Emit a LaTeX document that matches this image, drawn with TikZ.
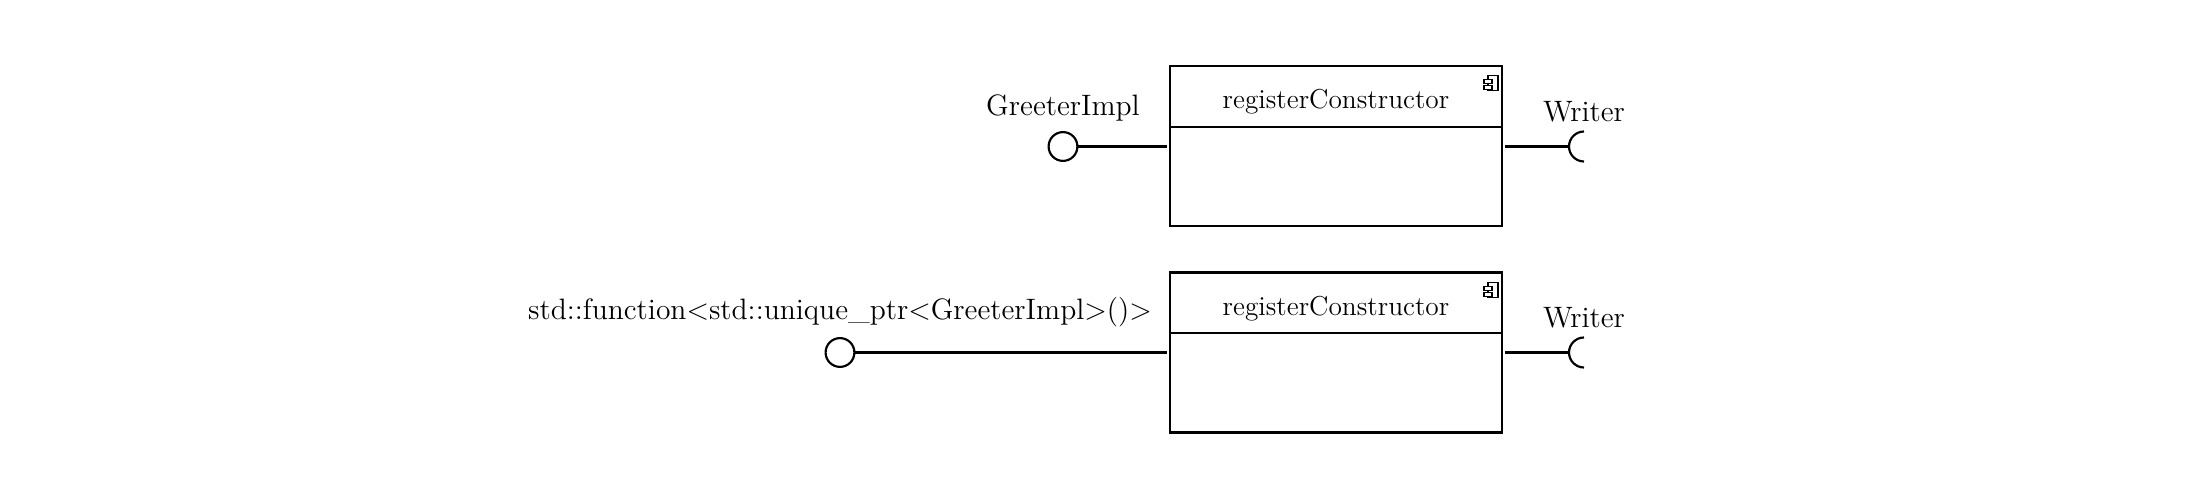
\documentclass[tikz,border=0pt]{standalone}
\usetikzlibrary{calc}
\begin{document}
\begin{tikzpicture}[x=0.41667pt,y=-0.41667pt,line width=0.9pt,
  comp/.style={draw, minimum width=138.33pt, minimum height=66.67pt, inner sep=0pt},
  ctitle/.style={font=\fontsize{11.4}{13.6}\selectfont, inner sep=0pt},
  lbl/.style={font=\fontsize{12.3}{14.6}\selectfont, anchor=south, inner sep=3.6pt},
  ball/.style={circle, draw, minimum size=12pt, inner sep=0pt},
  iconbox/.style={draw, fill=white, line width=0.55pt}
]
\useasboundingbox (0,0) rectangle (2185,489);

% ---------- top component ----------
\node[comp] (box1) at (1336,145.7) {};
\draw ($(box1.north west)+(0,62)$) -- ($(box1.north east)+(0,62)$);
\node[ctitle] (t1) at ($(box1.north)+(0,37.5)$) {registerConstructor};
\draw[iconbox] ($(box1.north east)+(-15,11)$) rectangle ($(box1.north east)+(-5,26)$);
\draw[iconbox] ($(box1.north east)+(-19,15)$) rectangle ($(box1.north east)+(-11,19)$);
\draw[iconbox] ($(box1.north east)+(-19,21)$) rectangle ($(box1.north east)+(-11,25)$);

\node[ball] (b1) at (1063,146.5) {};
\coordinate (b1e) at (1167,146.5);
\draw (b1) -- (b1e);
\node[lbl] (l1) at (b1.north) {GreeterImpl};

\coordinate (s1a) at (1505,146.5);
\coordinate (s1) at (1569,146.5);
\draw (s1a) -- (s1);
\draw ($(s1)+(15,-15)$) arc[start angle=90, end angle=270, radius=6.25pt];
\coordinate (s1top) at ($(s1)+(15,-15)$);
\node[lbl] (w1) at (s1top) {Writer};

% ---------- bottom component ----------
\node[comp] (box2) at (1336,352.5) {};
\draw ($(box2.north west)+(0,62)$) -- ($(box2.north east)+(0,62)$);
\node[ctitle] (t2) at ($(box2.north)+(0,37.5)$) {registerConstructor};
\draw[iconbox] ($(box2.north east)+(-15,11)$) rectangle ($(box2.north east)+(-5,26)$);
\draw[iconbox] ($(box2.north east)+(-19,15)$) rectangle ($(box2.north east)+(-11,19)$);
\draw[iconbox] ($(box2.north east)+(-19,21)$) rectangle ($(box2.north east)+(-11,25)$);

\node[ball] (b2) at (840,352.5) {};
\coordinate (b2e) at (1167,352.5);
\draw (b2) -- (b2e);
\node[lbl] (l2) at (b2.north) {std::function<std::unique\_ptr<GreeterImpl>()>};

\coordinate (s2a) at (1505,352.5);
\coordinate (s2) at (1569,352.5);
\draw (s2a) -- (s2);
\draw ($(s2)+(15,-15)$) arc[start angle=90, end angle=270, radius=6.25pt];
\coordinate (s2top) at ($(s2)+(15,-15)$);
\node[lbl] (w2) at (s2top) {Writer};
\end{tikzpicture}
\end{document}
